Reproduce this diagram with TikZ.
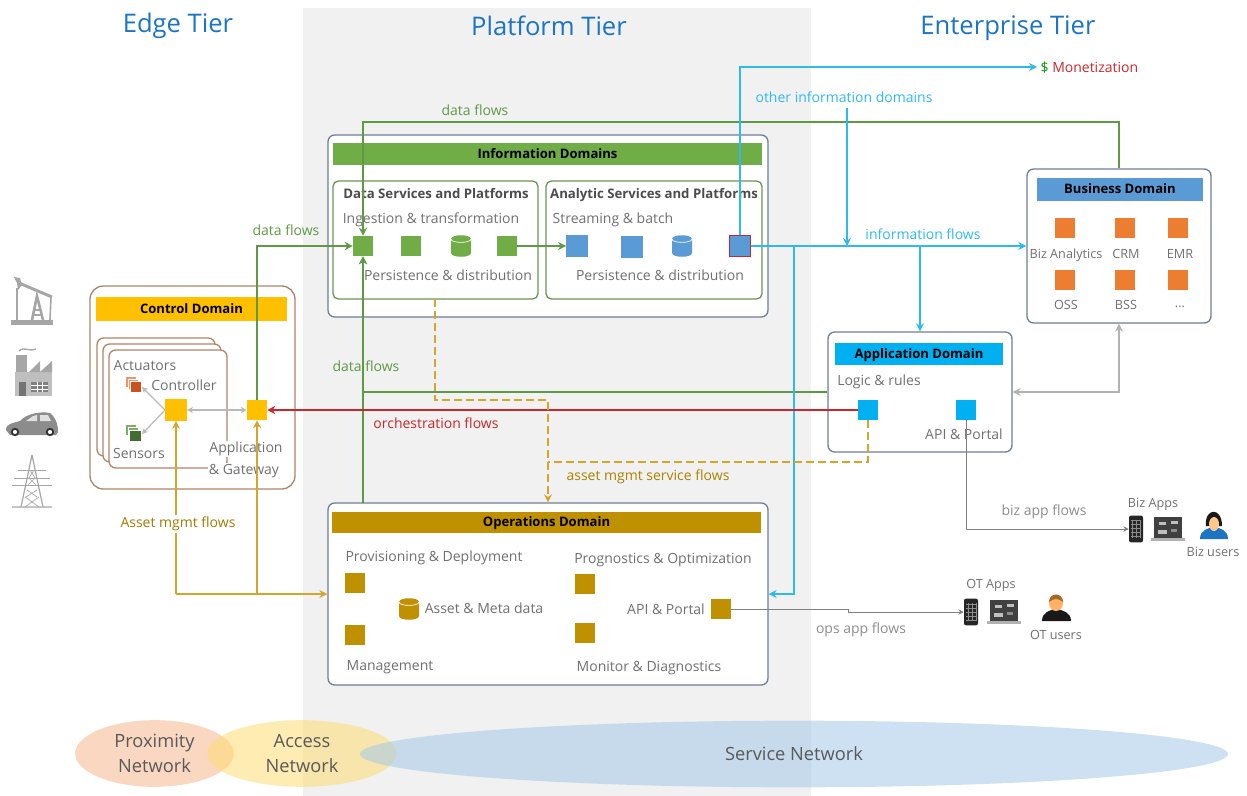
\documentclass[tikz,border=0pt]{standalone}
\usepackage{fontspec}
\setmainfont{Open Sans}
\usetikzlibrary{arrows.meta,fit,shapes.geometric}

\definecolor{tierblue}{HTML}{1B75C4}
\definecolor{txtgray}{HTML}{707070}
\definecolor{boxline}{HTML}{6D7F96}
\definecolor{ctlbrown}{HTML}{B08468}
\definecolor{infogreen}{HTML}{70AD47}
\definecolor{flowgreen}{HTML}{5E9A44}
\definecolor{anlblue}{HTML}{5B9BD5}
\definecolor{skyblue}{HTML}{00B0F0}
\definecolor{flowsky}{HTML}{2DB9F2}
\definecolor{ctlyellow}{HTML}{FFC000}
\definecolor{opsgold}{HTML}{BF9000}
\definecolor{flowgold}{HTML}{D4A72C}
\definecolor{flowred}{HTML}{C8282D}
\definecolor{bizorange}{HTML}{ED7D31}
\definecolor{icongray}{HTML}{A6A6A6}

\tikzset{
    >={Stealth[length=6pt,width=6pt]},
    lbl/.style={font=\fontsize{10.5}{12}\selectfont, text=txtgray, inner sep=1pt, text height=7.6pt, text depth=2.2pt, yshift=-1.4pt},
    lblsmall/.style={font=\fontsize{9.5}{11}\selectfont, text=txtgray, inner sep=1pt, text height=7pt, text depth=2pt, yshift=-1.3pt},
    subhead/.style={font=\fontsize{9.9}{11}\selectfont\bfseries, text=black!70, inner sep=1pt, text height=7.4pt, text depth=2.1pt, yshift=-1.3pt},
    tier/.style={font=\fontsize{19.2}{22}\selectfont, text=tierblue},
    nettext/.style={font=\fontsize{13.7}{18.7}\selectfont, text=black!65, align=center, inner sep=0pt},
    bar/.style={inner sep=0pt},
    bartext/.style={inner sep=0pt, font=\fontsize{9.8}{11}\selectfont\bfseries, text=black, text height=7.4pt, text depth=2.1pt, yshift=-.7pt},
    domainbox/.style={draw=boxline, fill=white, line width=1pt, rounded corners=5pt, inner sep=0pt},
    svcbox/.style={draw=infogreen!75!black!85, fill=white, line width=1pt, rounded corners=4pt, inner sep=0pt},
    ctlbox/.style={draw=ctlbrown, fill=white, line width=1pt, rounded corners=5pt},
    sq/.style={minimum size=15pt, inner sep=0pt},
    flow/.style={line width=.8pt},
    thinflow/.style={gray!70, line width=.7pt, >={Stealth[length=4pt,width=4pt]}},
    ctlflow/.style={gray!55, line width=.9pt, >={Stealth[length=4.5pt,width=4.5pt]}},
    phone/.style={rectangle, rounded corners=1.5pt, fill=black!85, minimum width=10.5pt, minimum height=20pt, inner sep=0pt},
    netoval/.style={ellipse, minimum height=50pt, inner sep=0pt, fill opacity=.55, text opacity=1},
    pics/dbicon/.style={code={
        \fill[#1] (-10,-7) -- (-10,7) .. controls (-10,12) and (10,12) .. (10,7) -- (10,-7) .. controls (10,-12) and (-10,-12) .. (-10,-7) -- cycle;
        \draw[white, line width=.5pt] (-10,-7) .. controls (-10,-2.5) and (10,-2.5) .. (10,-7);
    }},
    laptopicon/.pic={
        \fill[black!75] (-14,-11) rectangle (14,10);
        \fill[black!30] (-17,10) rectangle (17,13);
        \fill[black!25] (-9,-6) rectangle (-2,-3);
        \fill[black!25] (3,-7) rectangle (10,-4);
        \fill[black!25] (-10,2) rectangle (-1,6);
        \fill[black!45] (3,1) rectangle (9,4);
    },
}

\begin{document}
\begin{tikzpicture}[x=0.75pt,y=-0.75pt]
    \useasboundingbox (0,0) rectangle (1247,796);
    \fill[black!5.5] (303,8) rectangle (811,796);

    \node[tier] (edgetier) at (178,26) {Edge Tier};
    \node[tier] (plattier) at (549,26) {Platform Tier};
    \node[tier] (enttier) at (1008,28) {Enterprise Tier};

    \node[netoval, fill=bizorange!55, minimum width=119pt] (proxnet) at (154.5,753.5) {};
    \node[netoval, fill=ctlyellow!55, minimum width=142pt] (accnet) at (302,753.5) {};
    \node[netoval, fill=anlblue!55, minimum width=651pt] (svcnet) at (794,754) {};
    \node[nettext] at (proxnet) {Proximity\\Network};
    \node[nettext] at (accnet) {Access\\Network};
    \node[nettext] at (svcnet) {Service Network};

    % field icons
    \fill[icongray] (11,320) rectangle (53,325);
    \draw[icongray, line width=2pt] (32,320) -- (37,296) -- (43,320);
    \draw[icongray, line width=1pt] (34,310) -- (41,310) (33,315) -- (42,315);
    \draw[icongray, line width=2.2pt] (19,283) -- (52,297);
    \fill[icongray] (14,277) -- (20,278) -- (22,285) -- (18,290) -- (17,283) -- cycle;
    \draw[icongray, line width=1pt] (17,288) -- (17,320);
    \draw[icongray, line width=1.2pt] (51,297) -- (50,320);

    \fill[icongray] (16,355) rectangle (27,372);
    \fill[black!25] (15,372) rectangle (52,396);
    \fill[icongray] (29,372) -- (40,361) -- (40,372) -- (52,361) -- (52,372) -- cycle;
    \fill[black!55] (19,382) rectangle (26,396);
    \fill[black!50] (31,382) rectangle (48,392);
    \draw[white, line width=.5pt] (31,385.5) -- (48,385.5) (31,389) -- (48,389) (37,382) -- (37,392) (42,382) -- (42,392);
    \draw[icongray, line width=1pt] (19,351) .. controls (24,346) and (29,352) .. (36,349);

    \fill[black!45] (6,430) .. controls (6,423) and (14,423) .. (20,421) .. controls (26,414) and (40,411) .. (50,413) .. controls (56,418) and (58,424) .. (58,432) -- (56,435) -- (10,435) -- cycle;
    \fill[black!12] (26,421) -- (33,416) -- (37,415) -- (37,421) -- cycle (40,415) -- (48,415) -- (51,421) -- (40,421) -- cycle;
    \filldraw[fill=white, draw=black!80, line width=1.4pt] (15,432) circle (3.2);
    \filldraw[fill=white, draw=black!80, line width=1.4pt] (50,432) circle (3.2);

    \draw[icongray, line width=.9pt] (32,455) -- (21,507) (32,455) -- (43,507) (12,507) -- (52,507);
    \draw[icongray, line width=.7pt] (18,470) -- (46,470) (14,478) -- (50,478) (12,485) -- (52,485);
    \draw[icongray, line width=.5pt] (30,470) -- (35,478) (34,470) -- (29,478) (29,478) -- (36,485) (35,478) -- (28,485) (27,490) -- (37,497) (37,490) -- (26,497) (25,497) -- (39,507) (39,497) -- (25,507);

    % control domain
    \node[domainbox, draw=ctlbrown, rounded corners=10pt, fit={(90,286) (295,489)}] (ctldom) {};
    \node[bar, fill=ctlyellow, fit={(96,297) (287,321)}] (ctlbar) {};
    \node[bartext] at (ctlbar) {Control Domain};
    \draw[ctlbox] (97,338) rectangle (215,456);
    \draw[ctlbox] (103,344) rectangle (221,462);
    \draw[ctlbox] (109,350) rectangle (227,468);
    \node[lbl] (actlbl) at (145,365) {Actuators};
    \node[lbl] (ctllbl) at (184,385) {Controller};
    \node[lbl] (senlbl) at (139,453) {Sensors};
    \node[lbl, fill=white] (gwlbl) at (246,447) {Application};
    \node[lbl, fill=white] (gwlbl2) at (244,469) {\& Gateway};
    \fill[bizorange!80!red!70] (126,377) rectangle (136,387);
    \filldraw[fill=bizorange!80!red!70, draw=white, line width=.4pt] (128,379) rectangle (138,389);
    \filldraw[fill=bizorange!75!red!85!black, draw=white, line width=.4pt] (130,381) rectangle (141,392);
    \fill[flowgreen!80] (126,425) rectangle (136,435);
    \filldraw[fill=flowgreen!80, draw=white, line width=.4pt] (128,427) rectangle (138,437);
    \filldraw[fill=flowgreen!70!black, draw=white, line width=.4pt] (129,430) rectangle (141,441);
    \coordinate (actpt) at (142,387);
    \coordinate (senpt) at (142,434);
    \node[sq, fill=ctlyellow, minimum size=16pt] (ctrl) at (176,410) {};
    \node[sq, fill=ctlyellow] (gw) at (257,410) {};

    % information domains
    \node[domainbox, fit={(328,135) (768,317)}] (infodom) {};
    \node[bar, fill=infogreen, fit={(333,143) (762,165)}] (infobar) {};
    \node[bartext] at (infobar) {Information Domains};
    \node[svcbox, fit={(333,181) (538,299)}] (datasvc) {};
    \node[svcbox, fit={(546,181) (762,299)}] (anlsvc) {};
    \node[subhead] at (436,193) {Data Services and Platforms};
    \node[subhead] at (654,193) {Analytic Services and Platforms};
    \node[lbl] at (431,218) {Ingestion \& transformation};
    \node[lbl] at (613,218) {Streaming \& batch};
    \node[lbl] at (448,275) {Persistence \& distribution};
    \node[lbl] at (660,275) {Persistence \& distribution};
    \node[sq, fill=infogreen] (ing) at (363,246) {};
    \node[sq, fill=infogreen] (ing2) at (411,246) {};
    \path (461,246) pic (ingdb) {dbicon=infogreen};
    \node[sq, fill=infogreen] (ing3) at (507,246) {};
    \node[sq, fill=anlblue, minimum size=16pt] (anl) at (577,246) {};
    \node[sq, fill=anlblue, minimum size=16pt] (anl2) at (632,247) {};
    \path (682,246) pic (anldb) {dbicon=anlblue};
    \node[sq, fill=anlblue, draw=flowred, line width=.9pt, minimum size=15.5pt] (anl3) at (740,246) {};

    % business domain
    \node[domainbox, fit={(1027,169) (1211,323)}] (bizdom) {};
    \node[bar, fill=anlblue, fit={(1037,178) (1203,201)}] (bizbar) {};
    \node[bartext] at (bizbar) {Business Domain};
    \node[sq, fill=bizorange] (biz1) at (1065,228) {};
    \node[sq, fill=bizorange] (biz2) at (1125,228) {};
    \node[sq, fill=bizorange] (biz3) at (1178,228) {};
    \node[sq, fill=bizorange] (biz4) at (1065,280) {};
    \node[sq, fill=bizorange] (biz5) at (1125,280) {};
    \node[sq, fill=bizorange] (biz6) at (1178,280) {};
    \node[lblsmall] at (1066,253) {Biz Analytics};
    \node[lblsmall] at (1126,253) {CRM};
    \node[lblsmall] at (1180,253) {EMR};
    \node[lblsmall] at (1066,304) {OSS};
    \node[lblsmall] at (1126,304) {BSS};
    \node[lblsmall] at (1180,302) {...};

    % application domain
    \node[domainbox, fit={(828,332) (1012,452)}] (appdom) {};
    \node[bar, fill=skyblue, fit={(835,343) (1003,365)}] (appbar) {};
    \node[bartext] at (appbar) {Application Domain};
    \node[lbl] at (879,380) {Logic \& rules};
    \node[lbl] at (964,434) {API \& Portal};
    \node[sq, fill=skyblue] (app1) at (868,410) {};
    \node[sq, fill=skyblue] (app2) at (966,410) {};

    % operations domain
    \node[domainbox, fit={(328,503) (768,685)}] (opsdom) {};
    \node[bar, fill=opsgold, fit={(332,512) (761,533)}] (opsbar) {};
    \node[bartext] at (opsbar) {Operations Domain};
    \node[lbl] at (434,556) {Provisioning \& Deployment};
    \node[lbl] at (663,558) {Prognostics \& Optimization};
    \node[lbl] at (484,608) {Asset \& Meta data};
    \node[lbl] at (666,609) {API \& Portal};
    \node[lbl] at (390,665) {Management};
    \node[lbl] at (649,666) {Monitor \& Diagnostics};
    \node[sq, fill=opsgold] (ops1) at (355,583) {};
    \node[sq, fill=opsgold] (ops2) at (355,635) {};
    \path (409,609) pic (opsdb) {dbicon=opsgold};
    \node[sq, fill=opsgold] (ops3) at (585,584) {};
    \node[sq, fill=opsgold] (ops4) at (585,633) {};
    \node[sq, fill=opsgold] (opsapi) at (721,609) {};

    % apps and users
    \node[phone] (bizphone) at (1136,529) {};
    \node[phone] (otphone) at (971,612) {};
    \draw[black!45, step=3pt, line width=.3pt] (1131,520) grid (1141,538);
    \draw[black!45, step=3pt, line width=.3pt] (966,603) grid (976,621);
    \path (1168,528) pic {laptopicon};
    \path (1004,611) pic {laptopicon};
    \fill[black!90] (1206,526) .. controls (1204,508) and (1222,506) .. (1222,526) -- cycle;
    \fill[tierblue] (1200,539) .. controls (1200,530) and (1208,528) .. (1214,527) .. controls (1220,528) and (1228,530) .. (1228,539) -- cycle;
    \fill[orange!45!white] (1214,524) ellipse (5 and 7);
    \fill[black!90] (1042,621) .. controls (1042,612) and (1050,610) .. (1056,609) .. controls (1062,610) and (1071,612) .. (1071,621) -- cycle;
    \fill[orange!60!white] (1056,603) ellipse (7 and 8);
    \fill[orange!60!black!85] (1049,602) .. controls (1049,592) and (1063,592) .. (1063,602) .. controls (1058,598) and (1054,598) .. (1049,602) -- cycle;
    \node[lblsmall] at (1153,502) {Biz Apps};
    \node[lblsmall] at (1213,551) {Biz users};
    \node[lblsmall] at (991,583) {OT Apps};
    \node[lblsmall] at (1056,634) {OT users};

    % flow labels
    \node[lbl, text=flowgreen] at (475,110) {data flows};
    \node[lbl, text=flowgreen] at (286,230) {data flows};
    \node[lbl, text=flowgreen] at (366,366) {data flows};
    \node[lbl, text=flowred] at (436,423) {orchestration flows};
    \node[lbl, text=opsgold!90!black] at (648,475) {asset mgmt service flows};
    \node[lbl, text=flowsky] at (844,97) {other information domains};
    \node[lbl, text=flowsky] at (923,234) {information flows};
    \node[lbl, text=txtgray!80] at (1044,510) {biz app flows};
    \node[lbl, text=txtgray!80] at (861,628) {ops app flows};
    \node[lbl, text=flowred, anchor=west, inner sep=2.5pt, yshift=1.4pt, text height=10pt, text depth=1.8pt] (money) at (1037,67) {\textcolor{green!60!black}{\$} Monetization};

    % connectors
    \coordinate (topbend) at (363,122);
    \coordinate (otherout) at (847,108);
    \coordinate (otherin) at (847,246);
    \coordinate (appjoin) at (920,246);
    \coordinate (opsjoin) at (794,246);
    \coordinate (dataout) at (435,299);
    \coordinate (svcbend) at (548,400);
    \coordinate (svcjoin) at (548,462);
    \coordinate (assetfork) at (176,594);
    \coordinate (gwfork) at (257,594);
    \coordinate (opsjog) at (848,609);
    \coordinate (opsup) at (363,503);

    \draw[ctlflow, <->] (actpt) -- (ctrl.west) -- (senpt);
    \draw[ctlflow, <->] (ctrl.east) -- (gw.west);

    \draw[flow, flowgreen, ->] (gw.north) |- (ing.west);
    \draw[flow, flowgreen, ->] (bizdom.north) |- (topbend) -- (ing.north);
    \draw[flow, flowgreen, ->] (appdom.west) -| (ing.south);
    \draw[flow, flowgreen, ->] (opsup) -- (ing.south);
    \draw[flow, flowgreen, ->] (ing3.east) -- (anl.west);

    \draw[flow, flowsky, ->] (anl3.east) -- (bizdom.west);
    \draw[flow, flowsky, ->] (anl3.north) |- (money.west);
    \draw[flow, flowsky, ->] (otherout) -- (otherin);
    \draw[flow, flowsky, ->] (appjoin) -- (appdom.north);
    \draw[flow, flowsky, ->] (opsjoin) |- (opsdom.east);

    \draw[flow, flowred, ->] (app1.west) -- (gw.east);

    \draw[flow, flowgold, dash pattern=on 6pt off 3pt, ->] (dataout) |- (svcbend) -- (opsdom.north);
    \draw[flow, flowgold, dash pattern=on 6pt off 3pt] (app1.south) |- (svcjoin);

    \draw[flow, flowgold, ->] (assetfork) -- (ctrl.south);
    \draw[flow, flowgold, ->] (gwfork) -- (gw.south);
    \draw[flow, flowgold, ->] (assetfork) -- (opsdom.west);
    \node[lbl, fill=white, text=opsgold!85!black, inner sep=2pt] at (178,522) {Asset mgmt flows};

    \draw[thinflow, gray, ->] (app2.south) |- (bizphone.west);
    \draw[thinflow, gray, ->] (opsapi.east) -- (opsjog) |- (otphone.west);
    \draw[gray!60, <->, line width=1pt] (bizdom.south) |- (appdom.east);
\end{tikzpicture}
\end{document}
